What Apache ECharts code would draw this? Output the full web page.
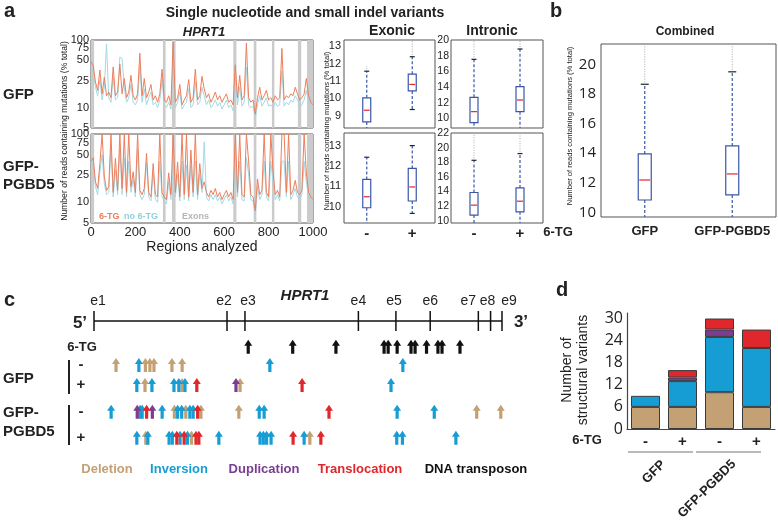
<!DOCTYPE html>
<html>
<head>
<meta charset="utf-8">
<script src="https://cdn.jsdelivr.net/npm/echarts@6/dist/echarts.min.js"></script>
<style>
html, body { margin: 0; padding: 0; background: #fff; }
#main { width: 778px; height: 532px; }
</style>
</head>
<body>
<div id="main"></div>
<script>
// ---------- panel a: per-region mutation rates (% of reads) ----------
const regions = Array.from({length: 101}, (_, i) => i * 10);
const gfpTg = [48,42,24,18,36,16,28,15,17,14, 40,15,17,44,16,27,14,17,30,15, 13,16,64,15,27,14,17,22,13,15,
  12,16,37,13,12,15,11,93,12,14, 22,11,13,15,26,12,14,37,13,15, 29,19,14,16,12,14,17,13,15,12,
  14,16,12,13,11,43,14,30,13,15, 90,14,12,13,8,14,20,13,15,18, 13,14,12,15,13,14,75,13,15,14,
  16,15,20,16,13,14,16,27,15,12, 11];
const gfpNoTg = [40,34,20,15,26,13,20,87,14,12, 28,13,14,56,53,20,12,14,22,12, 11,13,40,12,19,11,14,17,11,12,
  10,13,26,11,10,12,9.5,45,10,12, 17,9.5,11,12,19,10,11,24,11,12, 20,15,11,13,10,11,13,10.5,12,9.5,
  11,13,10,11,9,26,11,20,10.5,12, 40,11,10,10.5,7,11,15,10.5,12,14, 10.5,11,10,12,10.5,11,35,10.5,12,11,
  13,12,15,13,10.5,11,13,18,12,10, 9.5];
const pgbdTg = [40,45,20,16,37,100,24,15,17,100, 14,44,15,100,16,100,14,100,17,28, 14,100,15,13,16,52,14,12,37,13,
  12,100,14,12,11,27,13,100,14,39, 12,100,13,100,12,58,14,100,13,37, 16,20,14,12,15,13,16,12,14,11,
  13,15,12,14,11,100,14,100,13,12, 100,40,13,12,7.5,22,13,15,100,14, 12,100,28,13,15,12,100,100,14,100,
  13,15,21,14,13,15,100,27,14,12, 11];
const pgbdNoTg = [34,36,17,13,28,50,19,13,14,60, 12,30,13,60,13,45,12,40,14,22, 12,60,13,11,13,38,12,10.5,26,11,
  10,40,12,10.5,9.5,20,11,45,12,26, 10.5,40,11,35,10.5,35,12,40,11,26, 14,77,12,10.5,13,11,13,10.5,12,9.5,
  11,13,10.5,12,9.5,40,12,40,11,10.5, 45,26,11,10.5,6.5,17,11,13,40,12, 10.5,40,20,11,13,10.5,40,40,12,40,
  11,13,16,12,11,13,40,20,12,10.5, 9.5];
const exonBands = [[0, 14], [324, 336], [365, 381], [641, 655], [733, 745], [815, 826], [932, 947], [973, 1000]];
const lineTicks = [5, 10, 25, 50, 75, 100];
const regionTicks = [0, 200, 400, 600, 800, 1000];

// boxes: [lower whisker, Q1, median, Q3, upper whisker, top of outliers]
const tgCats = ['-', '+'];
const exonicGfp = [[8.0, 8.65, 9.32, 10.03, 11.56, 11.85], [9.36, 10.43, 10.8, 11.39, 12.39, 13.3]];
const exonicPgbd = [[9.0, 9.95, 10.49, 11.34, 12.43, 12.43], [9.67, 10.28, 10.97, 11.88, 13.0, 13.0]];
const intronicGfp = [[8.5, 9.44, 10.85, 12.68, 17.53, 20], [8.5, 10.85, 12.34, 14.04, 18.85, 20]];
const intronicPgbd = [[9.5, 10.78, 12.14, 13.87, 18.27, 22], [9.5, 11.23, 12.68, 14.5, 19.19, 22]];
const exonicTicksTop = [9, 10, 11, 12, 13];
const exonicTicksBottom = [10, 11, 12, 13];
const intronicTicksTop = [10, 12, 14, 16, 18, 20];
const intronicTicksBottom = [10, 12, 14, 16, 18, 20, 22];

// ---------- panel b ----------
const combinedCats = ['GFP', 'GFP-PGBD5'];
const combined = [[9.5, 10.83, 12.18, 13.94, 18.65, 21.4], [9.5, 11.17, 12.59, 14.48, 19.49, 21.4]];
const combinedTicks = [10, 12, 14, 16, 18, 20];

// ---------- panel c: HPRT1 map, positions on the same 0-1000 region scale ----------
const exonNames = ['e1', 'e2', 'e3', 'e4', 'e5', 'e6', 'e7', 'e8', 'e9'];
const exonTicks = [0, 326, 370, 648, 740, 824, 942, 972, 1000];
// [position, row]  rows: 0 6-TG, 1 GFP -, 2 GFP +, 3 GFP-PGBD5 -, 4 GFP-PGBD5 +
const deletionArrows = [[54,1],[126,1],[137,1],[147,1],[191,1],[216,1], [125,2],[216,2],[358,2],
  [197,3],[225,3],[262,3],[355,3],[938,3],[997,3], [127,4],[239,4],[529,4]];
const inversionArrows = [[110,1],[431,1],[757,1], [105,2],[142,2],[196,2],[208,2],[223,2],[728,2],
  [42,3],[113,3],[118,3],[167,3],[205,3],[215,3],[235,3],[243,3],[405,3],[417,3],[743,3],[834,3],
  [105,4],[132,4],[184,4],[192,4],[211,4],[229,4],[306,4],[407,4],[415,4],[423,4],[434,4],[515,4],[742,4],[756,4],[887,4]];
const duplicationArrows = [[348,2],[106,3],[143,3]];
const translocationArrows = [[252,2],[510,2],[129,3],[254,3],[576,3],[203,4],[221,4],[250,4],[257,4],[488,4],[556,4]];
const transposonArrows = [[378,0],[487,0],[593,0],[711,0],[721,0],[743,0],[777,0],[787,0],[815,0],[843,0],[853,0],[897,0]];

// ---------- panel d: structural variant counts ----------
const svCats = ['-', '+', '-', '+'];
const deletionCounts = [6, 6, 10, 6];
const inversionCounts = [3, 7, 15, 16];
const duplicationCounts = [0, 1, 2, 0];
const translocationCounts = [0, 2, 3, 5];
const svTicks = [0, 6, 12, 18, 24, 30];

// ---------- styles ----------
const FONT = 'Liberation Sans';
const ORANGE = '#ec7e5c', CYAN = '#a4d8e3';
const TAN = '#c4a075', BLUE = '#169dd3', PURPLE = '#7b3d8f', RED = '#e0282c';
const BOXBLUE = '#3a56a8', MEDRED = '#e5252a';
const rowY = [6.4, 23.8, 42.9, 68.3, 93];
const ARROW = 'path://M5,0 L10,6 L7,6 L7,14 L3,14 L3,6 L0,6 Z';

const chart = echarts.init(document.getElementById('main'));

const frame = (left, top, width, height) => ({
  left, top, width, height, show: true, borderColor: '#555', borderWidth: 1,
  backgroundColor: 'transparent', containLabel: false, outerBoundsMode: 'none'
});
const plain = (left, top, width, height) => ({
  left, top, width, height, show: false, containLabel: false, outerBoundsMode: 'none'
});

const grids = [
  frame(91, 40, 222, 88),   // 0 line GFP
  frame(91, 134, 222, 89),  // 1 line GFP-PGBD5
  frame(344, 40, 91, 88),   // 2 exonic GFP
  frame(344, 133, 91, 90),  // 3 exonic PGBD5
  frame(451, 40, 92, 88),   // 4 intronic GFP
  frame(451, 133, 92, 90),  // 5 intronic PGBD5
  frame(601, 44, 175, 173), // 6 combined
  plain(94, 340, 408, 105), // 7 HPRT1 map
  plain(627, 313, 148, 116) // 8 bar chart
];

const hidden = {axisLine: {show: false}, axisTick: {show: false}, splitLine: {show: false}, axisLabel: {show: false}};

const xAxes = [
  Object.assign({gridIndex: 0, type: 'value', min: 0, max: 1000}, hidden),
  Object.assign({gridIndex: 1, type: 'value', min: 0, max: 1000}, hidden),
  Object.assign({gridIndex: 2, type: 'category', data: tgCats}, hidden),
  {gridIndex: 3, type: 'category', data: tgCats, axisLine: {show: false}, axisTick: {show: false},
    axisLabel: {margin: 3, fontFamily: FONT, fontWeight: 'bold', fontSize: 15, color: '#222'}},
  Object.assign({gridIndex: 4, type: 'category', data: tgCats}, hidden),
  {gridIndex: 5, type: 'category', data: tgCats, axisLine: {show: false}, axisTick: {show: false},
    axisLabel: {margin: 3, fontFamily: FONT, fontWeight: 'bold', fontSize: 15, color: '#222'}},
  {gridIndex: 6, type: 'category', data: combinedCats, axisLine: {show: false}, axisTick: {show: false},
    axisLabel: {interval: 0, margin: 8, fontFamily: FONT, fontWeight: 'bold', fontSize: 13, color: '#222'}},
  Object.assign({gridIndex: 7, type: 'value', min: 0, max: 1000}, hidden),
  {gridIndex: 8, type: 'category', data: svCats, axisLine: {show: true, lineStyle: {color: '#444', width: 1.2}},
    axisTick: {show: false}, axisLabel: {interval: 0, margin: 5, fontFamily: FONT, fontWeight: 'bold', fontSize: 15, color: '#222'}}
];
const yAxes = [
  Object.assign({gridIndex: 0, type: 'log', logBase: 10, min: 5, max: 100}, hidden),
  Object.assign({gridIndex: 1, type: 'log', logBase: 10, min: 5, max: 100}, hidden),
  Object.assign({gridIndex: 2, type: 'value', min: 8.3, max: 13.35, scale: true}, hidden),
  Object.assign({gridIndex: 3, type: 'value', min: 9.2, max: 13.62, scale: true}, hidden),
  Object.assign({gridIndex: 4, type: 'value', min: 8.76, max: 20, scale: true}, hidden),
  Object.assign({gridIndex: 5, type: 'value', min: 9.7, max: 22, scale: true}, hidden),
  Object.assign({gridIndex: 6, type: 'value', min: 9.68, max: 21.37, scale: true}, hidden),
  Object.assign({gridIndex: 7, type: 'value', min: 0, max: 100, inverse: true}, hidden),
  {gridIndex: 8, type: 'value', min: 0, max: 31.5, axisLine: {show: true, lineStyle: {color: '#444', width: 1.2}},
    axisTick: {show: false}, splitLine: {show: false}, axisLabel: {show: false}}
];

const bandSeries = (gi) => ({
  type: 'custom', xAxisIndex: gi, yAxisIndex: gi, z: 1, silent: true,
  data: exonBands.map(b => [b[0], b[1], 10]),
  encode: {x: [0, 1], y: 2},
  renderItem(params, api) {
    const cs = params.coordSys;
    const x1 = api.coord([api.value(0), 10])[0];
    const x2 = api.coord([api.value(1), 10])[0];
    return {type: 'rect', shape: {x: x1, y: cs.y, width: Math.max(2, x2 - x1), height: cs.height},
      style: {fill: '#cbcbcb'}};
  }
});

const lineSeries = (gi, vals, color, z) => ({
  type: 'line', xAxisIndex: gi, yAxisIndex: gi, z, silent: true, symbol: 'none', showSymbol: false,
  data: regions.map((r, i) => [r, vals[i]]),
  lineStyle: {color, width: 1}, itemStyle: {color}
});

function makeBox(w, cap) {
  return function (params, api) {
    const cs = params.coordSys;
    const top = cs.y, bot = cs.y + cs.height;
    const cat = api.value(0);
    const x = api.coord([cat, api.value(3)])[0];
    const raw = i => api.coord([cat, api.value(i)])[1];
    const cl = y => Math.max(top, Math.min(bot, y));
    const yLow = raw(1), yQ1 = raw(2), yMed = raw(3), yQ3 = raw(4), yHigh = raw(5), yOut = raw(6);
    const kids = [];
    if (yHigh - yOut > 0.5) {
      kids.push({type: 'line', shape: {x1: x, y1: cl(yHigh) - 2, x2: x, y2: cl(yOut)},
        style: {stroke: '#a8a8a8', lineWidth: 1, lineDash: [1, 1.5]}});
    }
    kids.push({type: 'line', shape: {x1: x, y1: yQ3, x2: x, y2: cl(yHigh)},
      style: {stroke: BOXBLUE, lineWidth: 1.2, lineDash: [3, 2]}});
    kids.push({type: 'line', shape: {x1: x, y1: yQ1, x2: x, y2: cl(yLow)},
      style: {stroke: BOXBLUE, lineWidth: 1.2, lineDash: [3, 2]}});
    if (yHigh >= top) kids.push({type: 'line', shape: {x1: x - cap / 2, y1: yHigh, x2: x + cap / 2, y2: yHigh},
      style: {stroke: '#222', lineWidth: 1.2}});
    if (yLow <= bot) kids.push({type: 'line', shape: {x1: x - cap / 2, y1: yLow, x2: x + cap / 2, y2: yLow},
      style: {stroke: '#222', lineWidth: 1.2}});
    kids.push({type: 'rect', shape: {x: x - w / 2, y: yQ3, width: w, height: yQ1 - yQ3},
      style: {fill: '#fff', stroke: BOXBLUE, lineWidth: 1.2}});
    kids.push({type: 'line', shape: {x1: x - w / 2 + 1, y1: yMed, x2: x + w / 2 - 1, y2: yMed},
      style: {stroke: MEDRED, lineWidth: 1.2}});
    return {type: 'group', children: kids};
  };
}

const boxSeries = (gi, rows, w, cap) => ({
  type: 'custom', xAxisIndex: gi, yAxisIndex: gi, silent: true, z: 3,
  data: rows.map((r, i) => [i, ...r]),
  encode: {x: 0, y: [1, 2, 3, 4, 5, 6]},
  renderItem: makeBox(w, cap)
});

const arrowSeries = (name, pts, color) => ({
  name, type: 'scatter', xAxisIndex: 7, yAxisIndex: 7, silent: true, z: 5,
  symbol: ARROW, symbolSize: [8, 14],
  itemStyle: {color, opacity: 1},
  data: pts.map(([x, r]) => [x, rowY[r]])
});

const barSeries = (name, vals, color) => ({
  name, type: 'bar', xAxisIndex: 8, yAxisIndex: 8, stack: 'sv', barWidth: 29, silent: true,
  itemStyle: {color, borderColor: '#3a3a3a', borderWidth: 1},
  data: vals.map(v => (v === 0 ? '-' : v))
});

const option = {
  animation: false,
  textStyle: {fontFamily: FONT},
  grid: grids,
  xAxis: xAxes,
  yAxis: yAxes,
  series: [
    bandSeries(0), lineSeries(0, gfpNoTg, CYAN, 2), lineSeries(0, gfpTg, ORANGE, 3),
    bandSeries(1), lineSeries(1, pgbdNoTg, CYAN, 2), lineSeries(1, pgbdTg, ORANGE, 3),
    boxSeries(2, exonicGfp, 8, 5), boxSeries(3, exonicPgbd, 8, 5),
    boxSeries(4, intronicGfp, 8, 5), boxSeries(5, intronicPgbd, 8, 5),
    boxSeries(6, combined, 13, 8),
    arrowSeries('Deletion', deletionArrows, TAN),
    arrowSeries('Inversion', inversionArrows, BLUE),
    arrowSeries('Duplication', duplicationArrows, PURPLE),
    arrowSeries('Translocation', translocationArrows, RED),
    arrowSeries('DNA transposon', transposonArrows, '#111'),
    barSeries('Deletion', deletionCounts, TAN),
    barSeries('Inversion', inversionCounts, BLUE),
    barSeries('Duplication', duplicationCounts, PURPLE),
    barSeries('Translocation', translocationCounts, RED)
  ]
};
chart.setOption(option);

// ---------- texts and drawn furniture ----------
const txt = (text, x, y, o = {}) => ({
  type: 'text', x, y, rotation: o.rot || 0, silent: true, z: 10,
  style: {
    text, fill: o.color || '#222',
    font: `${o.style || 'normal'} ${o.weight || 'normal'} ${o.size || 12}px "${o.family || FONT}"`,
    align: o.align || 'center', verticalAlign: 'middle',
    textAlign: o.align || 'center', textVerticalAlign: 'middle'
  }
});
const seg = (x1, y1, x2, y2, color = '#111', width = 1.5) => ({
  type: 'line', silent: true, z: 10, shape: {x1, y1, x2, y2}, style: {stroke: color, lineWidth: width}
});
const py = (ai, v) => chart.convertToPixel({yAxisIndex: ai}, v);
const px = (ai, v) => chart.convertToPixel({xAxisIndex: ai}, v);

const g = [
  txt('a', 4, 11, {weight: 'bold', size: 20, align: 'left'}),
  txt('Single nucleotide and small indel variants', 305, 13, {weight: 'bold', size: 14}),
  txt('HPRT1', 204, 32, {weight: 'bold', style: 'italic', size: 13}),
  txt('Exonic', 392, 31, {weight: 'bold', size: 14}),
  txt('Intronic', 492, 31, {weight: 'bold', size: 14}),
  txt('GFP', 3, 95, {weight: 'bold', size: 15, align: 'left'}),
  txt('GFP-', 3, 167, {weight: 'bold', size: 15, align: 'left'}),
  txt('PGBD5', 3, 185, {weight: 'bold', size: 15, align: 'left'}),
  txt('Number of reads containing mutations (% total)', 65, 131, {size: 8.6, rot: Math.PI / 2}),
  txt('Number of reads containing mutations (% total)', 327, 131, {size: 7.6, rot: Math.PI / 2}),
  txt('6-TG', 99, 217, {weight: 'bold', size: 9, align: 'left', color: ORANGE}),
  txt('no 6-TG', 124, 217, {weight: 'bold', size: 9, align: 'left', color: '#8fd0dc'}),
  txt('Exons', 182, 217, {weight: 'bold', size: 9, align: 'left', color: '#b5b5b5'}),
  txt('Regions analyzed', 202, 247, {size: 14}),
  txt('6-TG', 558, 232, {weight: 'bold', size: 13}),
  txt('b', 556, 11, {weight: 'bold', size: 20}),
  txt('Combined', 685, 32, {weight: 'bold', size: 12}),
  txt('Number of reads containing mutations (% total)', 570, 126, {size: 7.6, rot: Math.PI / 2}),
  txt('c', 4, 300, {weight: 'bold', size: 20, align: 'left'}),
  txt('HPRT1', 305, 296, {weight: 'bold', style: 'italic', size: 15}),
  txt('5\u2019', 80, 323, {weight: 'bold', size: 17}),
  txt('3\u2019', 521, 322, {weight: 'bold', size: 17}),
  txt('6-TG', 82, 347, {weight: 'bold', size: 13}),
  txt('GFP', 3, 379, {weight: 'bold', size: 15, align: 'left'}),
  txt('GFP-', 3, 413, {weight: 'bold', size: 15, align: 'left'}),
  txt('PGBD5', 3, 432, {weight: 'bold', size: 15, align: 'left'}),
  seg(69, 360, 69, 394, '#222', 2), seg(69, 405, 69, 445, '#222', 2),
  txt('Deletion', 107, 469, {weight: 'bold', size: 13, color: TAN}),
  txt('Inversion', 179, 469, {weight: 'bold', size: 13, color: BLUE}),
  txt('Duplication', 264, 469, {weight: 'bold', size: 13, color: PURPLE}),
  txt('Translocation', 360, 469, {weight: 'bold', size: 13, color: RED}),
  txt('DNA transposon', 476, 469, {weight: 'bold', size: 13, color: '#111'}),
  txt('d', 562, 290, {weight: 'bold', size: 20}),
  txt('Number of', 567, 370, {size: 14, rot: Math.PI / 2}),
  txt('structural variants', 583, 370, {size: 14, rot: Math.PI / 2}),
  txt('6-TG', 587, 440, {weight: 'bold', size: 13}),
  seg(628, 452, 693, 452, '#777', 1.2), seg(696, 452, 761, 452, '#777', 1.2),
  txt('GFP', 654, 472, {weight: 'bold', size: 13, rot: Math.PI / 4}),
  txt('GFP-PGBD5', 707, 489, {weight: 'bold', size: 13, rot: Math.PI / 4})
];

// row signs in panel c
[['-', 1], ['+', 2], ['-', 3], ['+', 4]].forEach(([s, r]) => {
  g.push(txt(s, 81, py(7, rowY[r]), {weight: 'bold', size: 15}));
});

// tick labels read through each axis' scale
const yLabels = (ai, ticks, x, o) => ticks.forEach(t => g.push(txt(String(t), x, py(ai, t), Object.assign({align: 'right'}, o))));
yLabels(0, lineTicks, 89, {size: 11});
yLabels(1, lineTicks, 89, {size: 11});
yLabels(2, exonicTicksTop, 341, {size: 11});
yLabels(3, exonicTicksBottom, 341, {size: 11});
yLabels(4, intronicTicksTop, 449, {size: 10.5});
yLabels(5, intronicTicksBottom, 449, {size: 10.5});
yLabels(6, combinedTicks, 596, {size: 15, family: 'Open Sans'});
yLabels(8, svTicks, 623, {size: 16, family: 'Open Sans'});
regionTicks.forEach(t => g.push(txt(String(t), px(1, t), 232, {size: 13})));

// gene structure of HPRT1
const geneY = 321;
g.push(seg(px(7, exonTicks[0]), geneY, px(7, exonTicks[exonTicks.length - 1]), geneY, '#111', 1.5));
const labelShift = [4, -3, 3, 0, -2, 0, -10, -3, 7];
exonTicks.forEach((e, i) => {
  const x = px(7, e);
  g.push(seg(x, geneY - 10, x, geneY + 10, '#111', 1.5));
  g.push(txt(exonNames[i], x + labelShift[i], 301, {size: 14}));
});

chart.setOption({graphic: g});
</script>
</body>
</html>
